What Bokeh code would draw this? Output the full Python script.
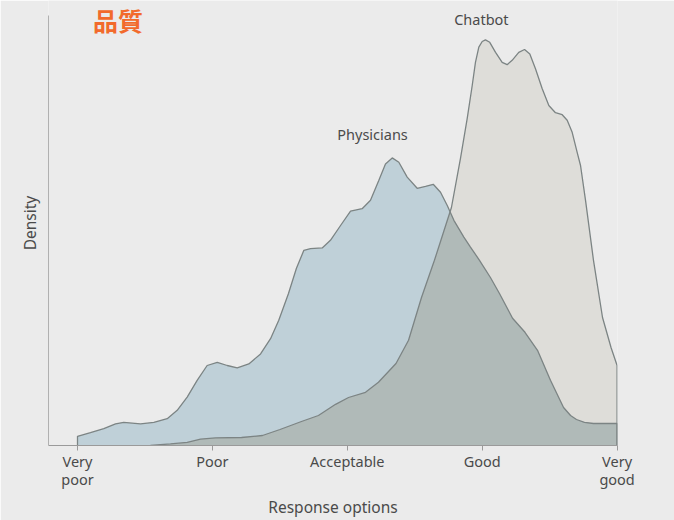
import numpy as np
from bokeh.plotting import figure
from bokeh.models import FixedTicker, Label, Range1d
from bokeh.embed import file_html
from bokeh.resources import INLINE

# ---- data ----
categories = ["Very\npoor", "Poor", "Acceptable", "Good", "Very\ngood"]
cat_positions = [1, 2, 3, 4, 5]

phys_x = [1.000, 1.096, 1.195, 1.282, 1.343, 1.467, 1.566, 1.665, 1.739, 1.813,
          1.887, 1.961, 2.036, 2.110, 2.184, 2.270, 2.357, 2.431, 2.492, 2.564,
          2.623, 2.678, 2.727, 2.814, 2.875, 2.950, 3.024, 3.110, 3.172, 3.234,
          3.283, 3.333, 3.382, 3.444, 3.518, 3.580, 3.637, 3.691, 3.741, 3.790,
          3.864, 3.913, 3.980, 4.061, 4.128, 4.225, 4.317, 4.410, 4.506, 4.603,
          4.655, 4.699, 4.758, 4.825, 5.000]
phys_d = [0.023, 0.032, 0.042, 0.054, 0.058, 0.054, 0.058, 0.067, 0.088, 0.121,
          0.163, 0.200, 0.208, 0.200, 0.194, 0.204, 0.229, 0.267, 0.313, 0.380,
          0.443, 0.488, 0.492, 0.494, 0.513, 0.550, 0.586, 0.592, 0.613, 0.663,
          0.704, 0.719, 0.708, 0.671, 0.643, 0.648, 0.653, 0.633, 0.600, 0.563,
          0.521, 0.496, 0.463, 0.420, 0.380, 0.318, 0.283, 0.238, 0.163, 0.095,
          0.075, 0.065, 0.058, 0.055, 0.055]

chat_x = [1.541, 1.689, 1.813, 1.912, 2.023, 2.216, 2.371, 2.501, 2.660, 2.786,
          2.913, 3.009, 3.135, 3.231, 3.361, 3.454, 3.550, 3.646, 3.713, 3.772,
          3.839, 3.889, 3.926, 3.950, 3.975, 4.000, 4.024, 4.056, 4.099, 4.148,
          4.185, 4.222, 4.271, 4.314, 4.353, 4.395, 4.445, 4.494, 4.543, 4.593,
          4.630, 4.667, 4.704, 4.729, 4.766, 4.825, 4.892, 4.955, 5.000]
chat_d = [0.000, 0.004, 0.008, 0.016, 0.019, 0.020, 0.025, 0.040, 0.060, 0.075,
          0.103, 0.120, 0.133, 0.158, 0.205, 0.263, 0.370, 0.463, 0.533, 0.595,
          0.718, 0.818, 0.900, 0.958, 0.996, 1.010, 1.014, 1.008, 0.983, 0.958,
          0.952, 0.963, 0.983, 0.990, 0.979, 0.942, 0.892, 0.850, 0.832, 0.827,
          0.813, 0.783, 0.733, 0.700, 0.613, 0.463, 0.320, 0.245, 0.200]

series_labels = ["Physicians", "Chatbot"]
label_x = [3.187, 3.994]
label_y = [0.778, 1.0675]

BG = "#ebebeb"
TXT = "#4a4a4a"
FONT = "Noto Sans"

p = figure(width=674, height=520, output_backend="svg",
           toolbar_location=None, x_range=Range1d(0.785, 5.003),
           y_range=Range1d(0, 1.1125),
           min_border_left=48, min_border_right=57, min_border_top=0,
           min_border_bottom=75)
p.background_fill_color = BG
p.border_fill_color = BG
p.outline_line_color = None
p.grid.visible = False

# patches
px_poly = [phys_x[0]] + phys_x + [phys_x[-1]]
py_poly = [0] + phys_d + [0]
cx_poly = [chat_x[0]] + chat_x + [chat_x[-1]]
cy_poly = [0] + chat_d + [0]
p.patch(px_poly, py_poly, fill_color="#bfd0d8", line_color=None)
p.patch(cx_poly, cy_poly, fill_color="#deddd9", line_color=None)

grid = np.linspace(chat_x[0], 5.0, 1201)
ov = np.minimum(np.interp(grid, phys_x, phys_d), np.interp(grid, chat_x, chat_d))
ox = [grid[0]] + list(grid) + [grid[-1]]
oy = [0] + list(ov) + [0]
p.patch(ox, oy, fill_color="#b0bab8", line_color=None)

LINE = "#7c8484"
p.line(px_poly, py_poly, line_color=LINE, line_width=1.3)
p.line(cx_poly, cy_poly, line_color=LINE, line_width=1.3)

# axes
xa = p.xaxis[0]
xa.ticker = FixedTicker(ticks=cat_positions)
xa.major_label_overrides = {k: v for k, v in zip(cat_positions, categories)}
xa.minor_tick_line_color = None
xa.major_tick_in = 0
xa.major_tick_out = 5
xa.major_tick_line_color = "#9a9a9a"
xa.axis_line_color = "#9a9a9a"
xa.major_label_text_font = FONT
xa.major_label_text_font_size = "14.5px"
xa.major_label_text_color = TXT
xa.major_label_text_line_height = 0.92
xa.major_label_standoff = 0
xa.axis_label = "Response options"
xa.axis_label_text_font = FONT
xa.axis_label_text_font_size = "15.5px"
xa.axis_label_text_font_style = "normal"
xa.axis_label_text_color = TXT
xa.axis_label_text_line_height = 1.0
xa.axis_label_standoff = 4

ya = p.yaxis[0]
ya.ticker = FixedTicker(ticks=[])
ya.bounds = (0, 1.075)
ya.minor_tick_line_color = None
ya.major_tick_line_color = None
ya.axis_line_color = "#b0b0b0"
ya.axis_label = "Density"
ya.axis_label_text_font = FONT
ya.axis_label_text_font_size = "15.5px"
ya.axis_label_text_font_style = "normal"
ya.axis_label_text_color = TXT
ya.axis_label_standoff = 8

for name, lx, ly in zip(series_labels, label_x, label_y):
    p.add_layout(Label(x=lx, y=ly, text=name, text_align="center",
                       text_baseline="middle", text_font=FONT,
                       text_font_size="14.5px", text_color=TXT))

p.add_layout(Label(x=1.115, y=1.065, text="品質", text_align="left",
                   text_baseline="middle", text_font="Noto Sans CJK JP",
                   text_font_style="bold", text_font_size="25px",
                   text_color="#f26a2c"))

open("out.html", "w").write(file_html(p, INLINE))
